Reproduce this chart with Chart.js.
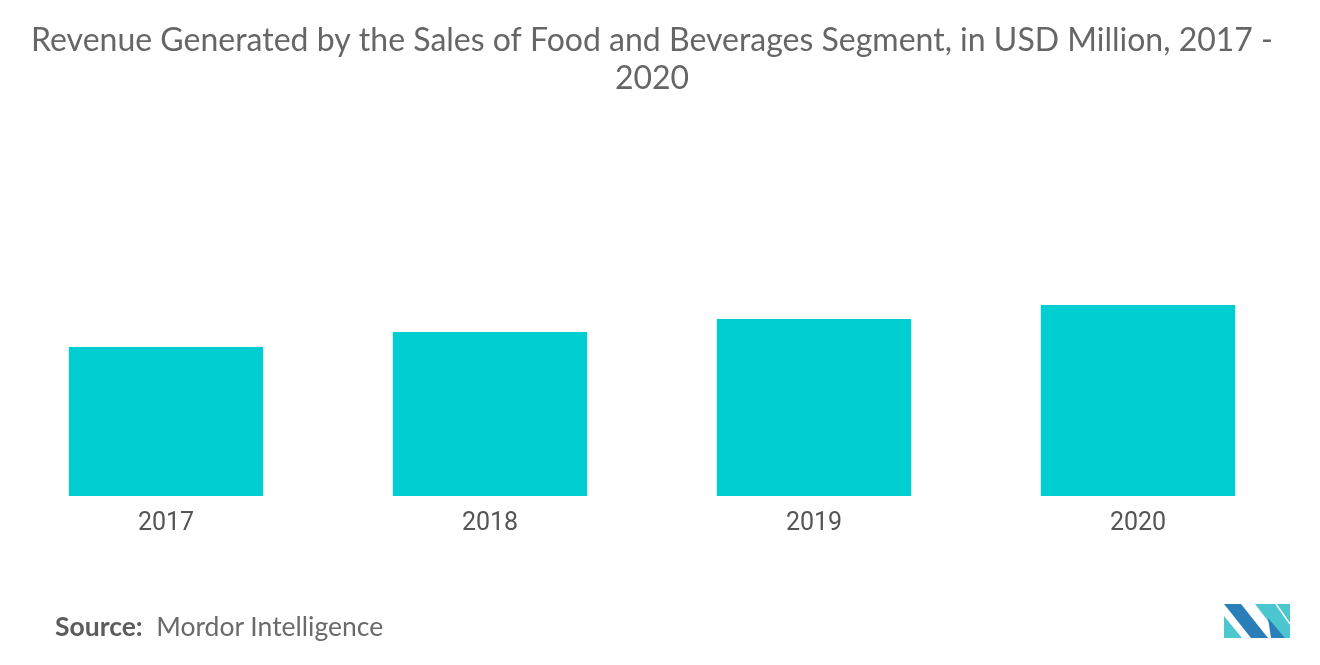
<!DOCTYPE html>
<html>
<head>
<meta charset="utf-8">
<script src="https://cdn.jsdelivr.net/npm/chart.js@4/dist/chart.umd.min.js"></script>
<style>
  html, body { margin: 0; padding: 0; background: #fff; }
  #wrap { position: relative; width: 1320px; height: 665px; }
  #c { position: absolute; left: 0; top: 0; }
  #source { position: absolute; left: 55px; top: 610px; font-family: Lato, "Open Sans", sans-serif; font-size: 26.5px; color: #6a6a6a; white-space: pre; line-height: 32px; }
  #source b { font-weight: 700; color: #5c5c5c; }
  #logo { position: absolute; left: 1224px; top: 604px; }
</style>
</head>
<body>
<div id="wrap">
  <canvas id="c" width="1320" height="665"></canvas>
  <div id="source"><b>Source:</b>  Mordor Intelligence</div>
  <svg id="logo" width="66" height="34" viewBox="0 0 66 34">
    <polygon points="0,0 17,0 44,34 27,34" fill="#2b7fb9"/>
    <polygon points="0,12 0,34 18,34" fill="#4cc7cf"/>
    <polygon points="31,0 66,0 66,34 57,34" fill="#4cc7cf"/>
    <polygon points="44,14 61,34 47,34" fill="#2b7fb9"/>
    <line x1="52" y1="0" x2="66" y2="20" stroke="#fff" stroke-width="1.5"/>
  </svg>
</div>
<script>
const categories = ["2017", "2018", "2019", "2020"];
const revenue = [745, 820, 885, 955];
const titleLines = ["Revenue Generated by the Sales of Food and Beverages Segment, in USD Million, 2017 -", "2020"];

new Chart(document.getElementById('c'), {
  type: 'bar',
  data: {
    labels: categories,
    datasets: [{
      data: revenue,
      backgroundColor: '#00ced1',
      borderWidth: 0,
      categoryPercentage: 1.0,
      barPercentage: 0.6
    }]
  },
  options: {
    responsive: false,
    animation: false,
    devicePixelRatio: 1,
    layout: { padding: { left: 4, right: 20, top: 0, bottom: 113 } },
    plugins: {
      legend: { display: false },
      tooltip: { enabled: false },
      title: {
        display: true,
        text: titleLines,
        color: '#666',
        font: { family: 'Lato', size: 32, weight: 'normal', lineHeight: 1.2 },
        padding: { top: 21, bottom: 32 }
      }
    },
    scales: {
      x: {
        grid: { display: false, drawTicks: false, tickLength: 0 },
        border: { display: false },
        ticks: { color: '#555', font: { family: 'Roboto', size: 25 }, padding: 13 }
      },
      y: {
        display: false,
        min: 0,
        max: 1830
      }
    }
  }
});
</script>
</body>
</html>
